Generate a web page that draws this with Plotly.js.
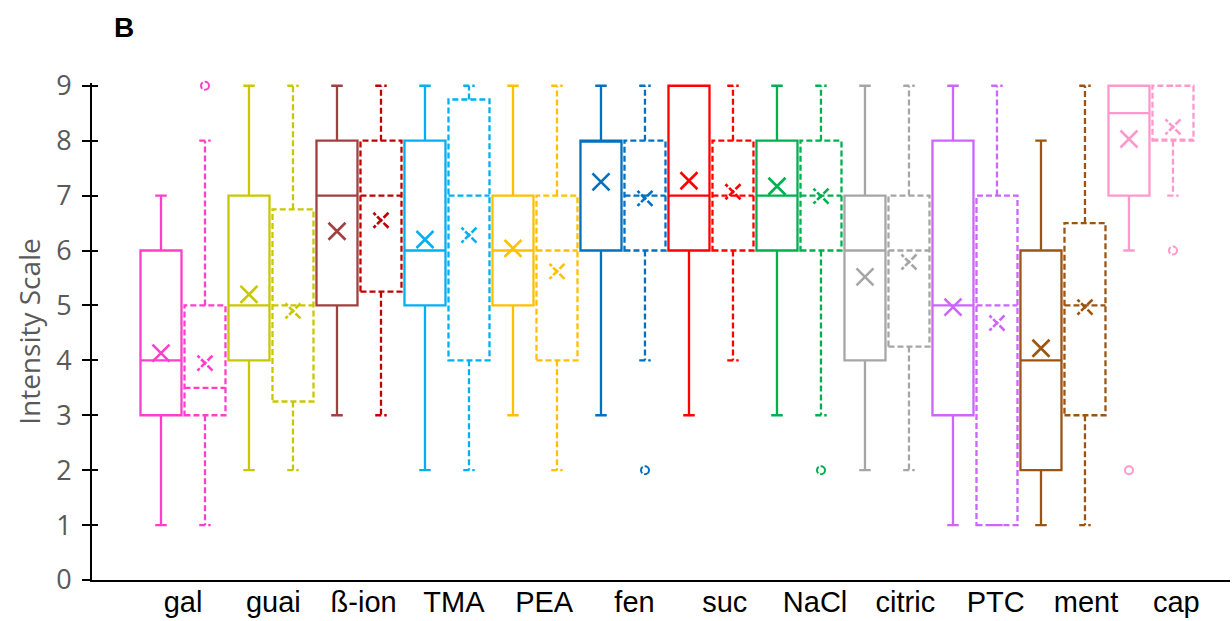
<!DOCTYPE html>
<html>
<head>
<meta charset="utf-8">
<script src="https://cdn.plot.ly/plotly-3.0.1.min.js"></script>
<style>html,body{margin:0;padding:0;background:#fff;}#chart{width:1232px;height:621px;}</style>
</head>
<body>
<div id="chart"></div>
<script>
// ---- data ----
const categories = ['gal','guai','ß-ion','TMA','PEA','fen','suc','NaCl','citric','PTC','ment','cap'];

// solid series
const solidLow    = [1, 2, 3, 2, 3, 3, 3, 3, 2, 1, 1, 6];
const solidQ1     = [3, 4, 5, 5, 5, 6, 6, 6, 4, 3, 2, 7];
const solidMedian = [4, 5, 7, 6, 6, 8, 7, 7, 6, 5, 4, 8.5];
const solidQ3     = [6, 7, 8, 8, 7, 8, 9, 8, 7, 8, 6, 9];
const solidHigh   = [7, 9, 9, 9, 9, 9, 9, 9, 9, 9, 8, 9];
const solidMean   = [4.13, 5.2, 6.35, 6.2, 6.04, 7.25, 7.27, 7.17, 5.52, 4.97, 4.22, 8.03];
const solidOutlierCat = ['cap'];
const solidOutlierVal = [2];

// dashed series
const dashLow    = [1, 2, 3, 2, 2, 4, 4, 3, 2, 1, 1, 7];
const dashQ1     = [3, 3.25, 5.25, 4, 4, 6, 6, 6, 4.25, 1, 3, 8];
const dashMedian = [3.5, 5, 7, 7, 6, 7, 7, 7, 6, 5, 5, 8];
const dashQ3     = [5, 6.75, 8, 8.75, 7, 8, 8, 8, 7, 7, 6.5, 9];
const dashHigh   = [8, 9, 9, 9, 9, 9, 9, 9, 9, 9, 9, 9];
const dashMean   = [3.95, 4.9, 6.55, 6.28, 5.62, 6.95, 7.07, 6.99, 5.79, 4.68, 4.97, 8.25];
const dashOutlierCat = ['gal', 'fen', 'NaCl', 'cap'];
const dashOutlierVal = [9, 2, 2, 6];

const solidColors = ['#FF3FCC','#C8C800','#A04040','#00B0F0','#FFC000','#0070C0','#FF0000','#00B050','#A6A6A6','#CC66FF','#9C5511','#FF99CC'];
const dashColors  = ['#FF3FCC','#C8C800','#C00000','#00B0F0','#FFC000','#0070C0','#FF0000','#00B050','#A6A6A6','#CC66FF','#9C5511','#FF99CC'];

// ---- build ----
const OFF = 0.25, BW = 0.466;
const traces = [];
const idx = c => categories.indexOf(c);

categories.forEach((c, i) => {
  traces.push({
    type: 'box', x: [i - OFF], q1: [solidQ1[i]], median: [solidMedian[i]], q3: [solidQ3[i]],
    lowerfence: [solidLow[i]], upperfence: [solidHigh[i]], width: BW, whiskerwidth: 0.28,
    line: {color: solidColors[i], width: 2.3}, fillcolor: 'rgba(0,0,0,0)', boxpoints: false,
    hoverinfo: 'skip', showlegend: false, name: c + ' A'
  });
  traces.push({
    type: 'box', x: [i + OFF], q1: [dashQ1[i]], median: [dashMedian[i]], q3: [dashQ3[i]],
    lowerfence: [dashLow[i]], upperfence: [dashHigh[i]], width: BW, whiskerwidth: 0.28,
    line: {color: dashColors[i], width: 2.3}, fillcolor: 'rgba(0,0,0,0)', boxpoints: false,
    hoverinfo: 'skip', showlegend: false, name: c + ' B'
  });
});

traces.push({
  type: 'scatter', mode: 'markers', x: categories.map((c, i) => i - OFF), y: solidMean,
  marker: {symbol: 'x-thin-open', size: 17, color: solidColors, line: {width: 2.6}},
  showlegend: false, hoverinfo: 'y', cliponaxis: false
});
traces.push({
  type: 'scatter', mode: 'markers', x: categories.map((c, i) => i + OFF), y: dashMean,
  marker: {symbol: 'x-thin-open', size: 15, color: dashColors, line: {width: 2.6}},
  showlegend: false, hoverinfo: 'y', cliponaxis: false
});
traces.push({
  type: 'scatter', mode: 'markers', x: solidOutlierCat.map(c => idx(c) - OFF), y: solidOutlierVal,
  marker: {symbol: 'circle-open', size: 8, color: solidOutlierCat.map(c => solidColors[idx(c)]), line: {width: 2}},
  showlegend: false, hoverinfo: 'y', cliponaxis: false
});
traces.push({
  type: 'scatter', mode: 'markers', x: dashOutlierCat.map(c => idx(c) + OFF), y: dashOutlierVal,
  marker: {symbol: 'circle-open', size: 8, color: dashOutlierCat.map(c => dashColors[idx(c)]), line: {width: 2}},
  showlegend: false, hoverinfo: 'y', cliponaxis: false
});
// invisible anchors so the secondary axes draw
traces.push({type: 'scatter', x: [0], y: [0], yaxis: 'y2', mode: 'markers', marker: {opacity: 0}, showlegend: false, hoverinfo: 'skip'});
traces.push({type: 'scatter', x: [0], y: [0], xaxis: 'x2', mode: 'markers', marker: {opacity: 0}, showlegend: false, hoverinfo: 'skip'});

const tickFontX = {family: 'Liberation Sans, Arial, sans-serif', size: 29, color: '#000'};
const grayFont = {family: 'Open Sans, sans-serif', size: 27, color: '#595959'};

const layout = {
  width: 1232, height: 621,
  margin: {l: 92, r: 2, t: 83, b: 41},
  paper_bgcolor: '#fff', plot_bgcolor: '#fff',
  showlegend: false,
  xaxis: {
    range: [-1.034, 11.898], showticklabels: false,
    ticks: '', showline: true, linecolor: '#000', linewidth: 2, showgrid: false, zeroline: false
  },
  // label axis: the reference's category labels are spaced slightly wider than the box groups
  xaxis2: {
    overlaying: 'x', side: 'bottom', anchor: 'y', range: [-1.008, 11.595],
    tickvals: categories.map((c, i) => i), ticktext: categories,
    ticks: '', showline: false, showgrid: false, zeroline: false,
    tickfont: tickFontX, ticklabelstandoff: 2
  },
  yaxis: {
    range: [0, 9.05], dtick: 1, tick0: 0, ticks: 'outside', ticklen: 8, tickwidth: 2, tickcolor: '#000',
    showline: true, linecolor: '#000', linewidth: 2, showgrid: false, zeroline: false,
    tickfont: grayFont, ticklabelstandoff: 5,
    title: {text: 'Intensity Scale', font: {family: 'Open Sans, sans-serif', size: 28, color: '#595959'}, standoff: 7}
  },
  yaxis2: {
    overlaying: 'y', side: 'left', range: [0, 9.05], dtick: 1, tick0: 0, ticks: 'inside', ticklen: 6,
    tickwidth: 2, tickcolor: '#000', showticklabels: false, showline: false, showgrid: false, zeroline: false
  },
  annotations: [{
    text: '<b>B</b>', xref: 'paper', yref: 'paper', x: 0.018, y: 1.111, xanchor: 'left', yanchor: 'middle',
    showarrow: false, font: {family: 'Liberation Sans, Arial, sans-serif', size: 28, color: '#000'}
  }]
};

Plotly.newPlot('chart', traces, layout, {displayModeBar: false, staticPlot: true}).then(gd => {
  const boxGroups = gd.querySelectorAll('.boxlayer .trace.boxes');
  boxGroups.forEach((g, k) => {
    if (k % 2 === 1) g.querySelectorAll('path').forEach(p => p.style.strokeDasharray = '6px,3px');
  });
  const sc = gd.querySelectorAll('.scatterlayer .trace.scatter');
  [1, 3].forEach(k => {
    if (sc[k]) sc[k].querySelectorAll('path.point').forEach(p => p.style.strokeDasharray = '7px,2px');
  });
});
</script>
</body>
</html>
